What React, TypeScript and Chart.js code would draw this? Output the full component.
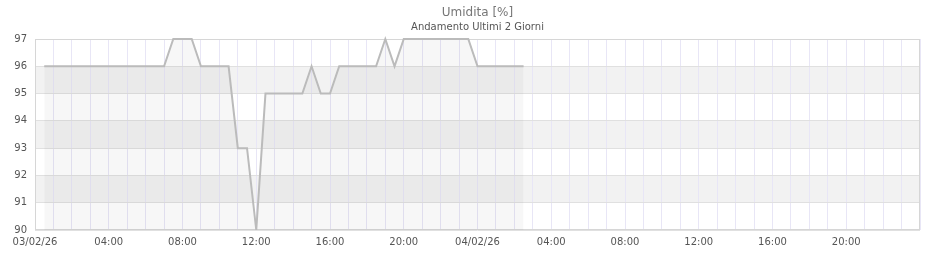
import React, { useEffect, useRef } from "react";
import { Chart, registerables } from "chart.js";

Chart.register(...registerables);

// Hours since 03/02/26 00:00 (half-hour readings)
const hours: number[] = [
  0.5, 1, 1.5, 2, 2.5, 3, 3.5, 4, 4.5, 5, 5.5, 6, 6.5, 7,
  7.5, 8, 8.5,
  9, 9.5, 10, 10.5,
  11, 11.5,
  12,
  12.5, 13, 13.5, 14, 14.5,
  15,
  15.5, 16,
  16.5, 17, 17.5, 18, 18.5,
  19,
  19.5,
  20, 20.5, 21, 21.5, 22, 22.5, 23, 23.5,
  24, 24.5, 25, 25.5, 26, 26.5,
];

const humidity: number[] = [
  96, 96, 96, 96, 96, 96, 96, 96, 96, 96, 96, 96, 96, 96,
  97, 97, 97,
  96, 96, 96, 96,
  93, 93,
  90,
  95, 95, 95, 95, 95,
  96,
  95, 95,
  96, 96, 96, 96, 96,
  97,
  96,
  97, 97, 97, 97, 97, 97, 97, 97,
  96, 96, 96, 96, 96, 96,
];

const tickHours: number[] = [0, 4, 8, 12, 16, 20, 24, 28, 32, 36, 40, 44];
const tickLabels: string[] = [
  "03/02/26", "04:00", "08:00", "12:00", "16:00", "20:00",
  "04/02/26", "04:00", "08:00", "12:00", "16:00", "20:00",
];

const yMin = 90;
const yMax = 97;

const FONT = "'DejaVu Sans', sans-serif";

const bandsPlugin = {
  id: "bands",
  beforeDraw(chart: any) {
    const { ctx, chartArea, scales } = chart;
    const y = scales.y;
    ctx.save();
    ctx.fillStyle = "#f2f2f2";
    for (let v = yMin; v < yMax; v++) {
      if ((v - yMin) % 2 === 1) {
        const top = y.getPixelForValue(v + 1);
        const bot = y.getPixelForValue(v);
        ctx.fillRect(chartArea.left, top, chartArea.right - chartArea.left, bot - top);
      }
    }
    ctx.restore();
  },
  beforeDatasetsDraw(chart: any) {
    const { ctx, chartArea } = chart;
    ctx.save();
    ctx.strokeStyle = "#d6d6d6";
    ctx.lineWidth = 1;
    ctx.strokeRect(
      Math.round(chartArea.left) + 0.5,
      Math.round(chartArea.top) + 0.5,
      Math.round(chartArea.right - chartArea.left) - 1,
      Math.round(chartArea.bottom - chartArea.top) - 1
    );
    ctx.restore();
  },
};

export default function App() {
  const ref = useRef<HTMLCanvasElement | null>(null);

  useEffect(() => {
    if (!ref.current) return;
    const chart = new Chart(ref.current, {
      type: "line",
      data: {
        datasets: [
          {
            data: hours.map((h, i) => ({ x: h, y: humidity[i] })),
            borderColor: "#bbbbbb",
            borderWidth: 2,
            backgroundColor: "rgba(0,0,0,0.03)",
            fill: "start",
            pointRadius: 0,
            tension: 0,
            clip: false,
          },
        ],
      },
      options: {
        animation: false,
        responsive: true,
        maintainAspectRatio: false,
        layout: { padding: { left: 0, right: 20, top: 0, bottom: 0 } },
        plugins: {
          legend: { display: false },
          tooltip: { enabled: false },
          title: {
            display: true,
            text: "Umidita [%]",
            fullSize: false,
            color: "#777777",
            font: { family: FONT, size: 12, weight: "normal" },
            padding: { top: 5.5, bottom: 0 },
          },
          subtitle: {
            display: true,
            text: "Andamento Ultimi 2 Giorni",
            fullSize: false,
            color: "#555555",
            font: { family: FONT, size: 10, weight: "normal" },
            padding: { top: 1.5, bottom: 5.6 },
          },
        },
        scales: {
          x: {
            type: "linear",
            min: 0,
            max: 48,
            afterFit(scale: any) {
              scale.height = 30;
            },
            afterBuildTicks(scale: any) {
              const t: any[] = [];
              for (let h = 0; h <= 48; h++) t.push({ value: h });
              scale.ticks = t;
            },
            ticks: {
              autoSkip: false,
              maxRotation: 0,
              minRotation: 0,
              padding: 6,
              color: "#555555",
              font: { family: FONT, size: 10 },
              callback(value: any) {
                const idx = tickHours.indexOf(Number(value));
                return idx >= 0 ? tickLabels[idx] : "";
              },
            },
            grid: {
              color: "#e8e6f6",
              drawTicks: false,
              lineWidth: 1,
            },
            border: { display: false },
          },
          y: {
            min: yMin,
            max: yMax,
            afterFit(scale: any) {
              scale.width = 35;
            },
            ticks: {
              stepSize: 1,
              padding: 8,
              color: "#555555",
              font: { family: FONT, size: 10 },
            },
            grid: {
              color: "#e0e0e0",
              drawTicks: false,
              lineWidth: 1,
            },
            border: { display: false },
          },
        },
      },
      plugins: [bandsPlugin],
    });
    return () => chart.destroy();
  }, []);

  return (
    <div style={{ position: "fixed", left: 0, top: 0, width: 940, height: 260, background: "#ffffff" }}>
      <canvas ref={ref} />
    </div>
  );
}
